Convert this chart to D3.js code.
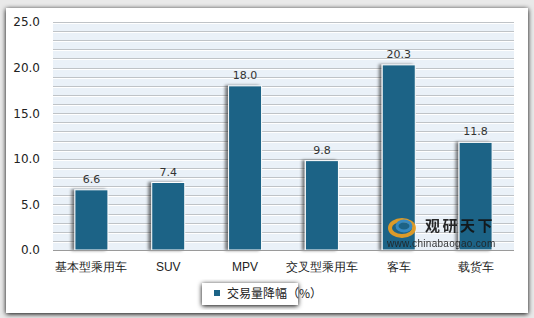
<!DOCTYPE html>
<html><head><meta charset="utf-8">
<script src="https://cdn.jsdelivr.net/npm/d3@7"></script>
<style>
html,body{margin:0;padding:0;background:#e9e9e9;}
svg{display:block;font-family:"Noto Sans CJK SC","Open Sans",sans-serif;}
</style></head>
<body>
<svg id="c" width="534" height="318"></svg>
<script>
const categories = ["基本型乘用车","SUV","MPV","交叉型乘用车","客车","载货车"];
const values = [6.6, 7.4, 18.0, 9.8, 20.3, 11.8];
const yTicks = [0, 5, 10, 15, 20, 25];
const seriesName = "交易量降幅（%）";

const svg = d3.select("#c");
const defs = svg.append("defs");
const f = defs.append("filter").attr("id","sh").attr("x","-20%").attr("y","-20%").attr("width","140%").attr("height","140%");
f.append("feGaussianBlur").attr("in","SourceAlpha").attr("stdDeviation",2.5);
f.append("feOffset").attr("dx",0).attr("dy",1).attr("result","b");
const fm = f.append("feMerge"); fm.append("feMergeNode").attr("in","b"); fm.append("feMergeNode").attr("in","SourceGraphic");
const fb = defs.append("filter").attr("id","bsh").attr("x","-30%").attr("y","-5%").attr("width","160%").attr("height","110%");
fb.append("feGaussianBlur").attr("in","SourceAlpha").attr("stdDeviation",1.5);
fb.append("feOffset").attr("dx",-3).attr("dy",0).attr("result","b");
fb.append("feComponentTransfer").append("feFuncA").attr("type","linear").attr("slope",0.5);
const fbm = fb.append("feMerge"); fbm.append("feMergeNode"); fbm.append("feMergeNode").attr("in","SourceGraphic");

// outer panel
svg.append("rect").attr("x",6).attr("y",8).attr("width",522).attr("height",305).attr("fill","#fff").attr("filter","url(#sh)");

const L = 53, R = 514, T = 22, B = 250;
const x = d3.scaleBand().domain(categories).range([L,R]).paddingInner(0.57).paddingOuter(0.285);
const y = d3.scaleLinear().domain([0,25]).range([B,T]);

svg.append("rect").attr("x",L).attr("y",T).attr("width",R-L).attr("height",B-T).attr("fill","#eaf1f8");
// grid every 1 unit
const grid = d3.range(1,26);
svg.append("g").selectAll("line").data(grid).join("line")
  .attr("x1",L).attr("x2",R).attr("y1",d=>Math.round(y(d))+0.5).attr("y2",d=>Math.round(y(d))+0.5)
  .attr("stroke","#bfc3c7").attr("stroke-width",1);
svg.append("g").selectAll("line").data(grid).join("line")
  .attr("x1",L).attr("x2",R).attr("y1",d=>Math.round(y(d))+1.5).attr("y2",d=>Math.round(y(d))+1.5)
  .attr("stroke","#ffffff").attr("stroke-width",1);

// y axis
const ya = svg.append("g").attr("transform",`translate(${L-10},0)`)
  .call(d3.axisLeft(y).tickValues(yTicks).tickFormat(d3.format(".1f")).tickSize(0));
ya.select(".domain").remove();
ya.selectAll("text").attr("font-size",12).attr("fill","#222").attr("font-family","'DejaVu Sans',sans-serif");

// bars
svg.append("g").selectAll("rect").data(values).join("rect")
  .attr("x",(d,i)=>x(categories[i])).attr("width",x.bandwidth())
  .attr("y",d=>y(d)).attr("height",d=>B-y(d))
  .attr("fill","#1c6386").attr("stroke","#ffffff").attr("stroke-width",1).attr("filter","url(#bsh)");

// x axis line
svg.append("line").attr("x1",L).attr("x2",R).attr("y1",B+0.5).attr("y2",B+0.5).attr("stroke","#9a9a9a");

// value labels
svg.append("g").selectAll("text").data(values).join("text")
  .attr("x",(d,i)=>x(categories[i])+x.bandwidth()/2).attr("y",d=>y(d)-7)
  .attr("text-anchor","middle").attr("font-size",11).attr("fill","#333")
  .attr("font-family","'DejaVu Sans',sans-serif").text(d=>d3.format(".1f")(d));

// x axis labels
const xa = svg.append("g").attr("transform",`translate(0,${B})`)
  .call(d3.axisBottom(x).tickSize(0).tickPadding(12));
xa.select(".domain").remove();
xa.selectAll("text").attr("font-size",12).attr("fill","#222");

// watermark
const wm = svg.append("g").attr("opacity",0.9);
wm.append("ellipse").attr("cx",402).attr("cy",228).attr("rx",12).attr("ry",8).attr("fill","none").attr("stroke","#f0a020").attr("stroke-width",4);
wm.append("ellipse").attr("cx",404).attr("cy",226).attr("rx",7).attr("ry",5).attr("fill","none").attr("stroke","#3a8fc8").attr("stroke-width",3);
wm.append("text").attr("x",425).attr("y",231).attr("font-size",15).attr("font-weight","bold").attr("fill","#111").attr("letter-spacing",2.5).text("观研天下");
wm.append("text").attr("x",387).attr("y",247).attr("font-size",10).attr("fill","#222").attr("letter-spacing",0.3).attr("font-family","'Liberation Sans',sans-serif").text("www.chinabaogao.com");

// legend
const lg = svg.append("g");
lg.append("rect").attr("x",202).attr("y",283).attr("width",96).attr("height",22).attr("fill","#fff").attr("filter","url(#sh)");
lg.append("rect").attr("x",214).attr("y",290).attr("width",6).attr("height",6).attr("fill","#1c6386");
lg.append("text").attr("x",227).attr("y",298).attr("font-size",12).attr("fill","#222").text(seriesName);
</script>
</body></html>
